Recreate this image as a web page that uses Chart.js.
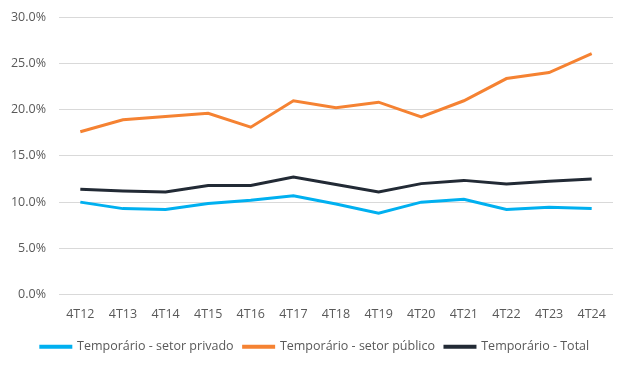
<!DOCTYPE html>
<html>
<head>
<meta charset="utf-8">
<script src="https://cdn.jsdelivr.net/npm/chart.js@4.4.1/dist/chart.umd.min.js"></script>
<style>
  html, body { margin: 0; padding: 0; background: #fff; }
  #wrap { width: 630px; height: 368px; }
</style>
</head>
<body>
<div id="wrap"><canvas id="grafico"></canvas></div>
<script>
// Dados do gráfico (% dos empregados)
const trimestres = ['4T12', '4T13', '4T14', '4T15', '4T16', '4T17', '4T18', '4T19', '4T20', '4T21', '4T22', '4T23', '4T24'];
const setorPrivado = [10.0, 9.3, 9.2, 9.85, 10.2, 10.7, 9.8, 8.8, 10.0, 10.3, 9.2, 9.45, 9.3];
const setorPublico = [17.6, 18.9, 19.25, 19.6, 18.1, 20.95, 20.2, 20.8, 19.2, 20.95, 23.35, 24.0, 26.05];
const total = [11.4, 11.2, 11.1, 11.8, 11.8, 12.7, 11.9, 11.1, 12.0, 12.35, 11.95, 12.25, 12.5];

const corTexto = '#595959';
const fonte = "'Open Sans', 'Noto Sans', sans-serif";

function serie(label, data, cor) {
    return {
        label: label,
        data: data,
        borderColor: cor,
        backgroundColor: cor,
        borderWidth: 3,
        pointRadius: 0,
        tension: 0,
        fill: false
    };
}

const ctx = document.getElementById('grafico').getContext('2d');
new Chart(ctx, {
    type: 'line',
    data: {
        labels: trimestres,
        datasets: [
            serie('Temporário - setor privado', setorPrivado, '#00B0F0'),
            serie('Temporário - setor público', setorPublico, '#F58232'),
            serie('Temporário - Total', total, '#222A35')
        ]
    },
    options: {
        responsive: true,
        maintainAspectRatio: false,
        animation: false,
        layout: { padding: { top: 0, right: 0, left: 0, bottom: 5 } },
        scales: {
            x: {
                offset: true,
                grid: { display: false },
                border: { display: false },
                ticks: { color: corTexto, font: { family: fonte, size: 12.5 }, padding: 4, maxRotation: 0 }
            },
            y: {
                min: 0,
                max: 30,
                afterFit: function(scale) {
                    scale.width = 59;
                    scale.paddingTop = 17; // linha dos 30% a 17px do topo
                },
                grid: { color: '#D9D9D9', lineWidth: 1, drawTicks: false },
                border: { display: false },
                ticks: {
                    stepSize: 5,
                    color: corTexto,
                    padding: 13,
                    font: { family: fonte, size: 12.5 },
                    callback: function(v) { return v.toFixed(1) + '%'; }
                }
            },
            // eixo vazio à direita só para a margem (a legenda fica centrada no canvas)
            yDir: {
                position: 'right',
                min: 0,
                max: 30,
                afterFit: function(scale) { scale.width = 17; },
                grid: { display: false },
                border: { display: false },
                ticks: { display: false }
            }
        },
        plugins: {
            legend: {
                position: 'bottom',
                // título vazio só para dar espaço acima da legenda
                title: { display: true, text: ' ', padding: 0, font: { size: 4 } },
                labels: {
                    color: corTexto,
                    font: { family: fonte, size: 12.5 },
                    boxWidth: 30,
                    boxHeight: 1,
                    padding: 10
                }
            },
            tooltip: { enabled: false }
        }
    }
});
</script>
</body>
</html>
